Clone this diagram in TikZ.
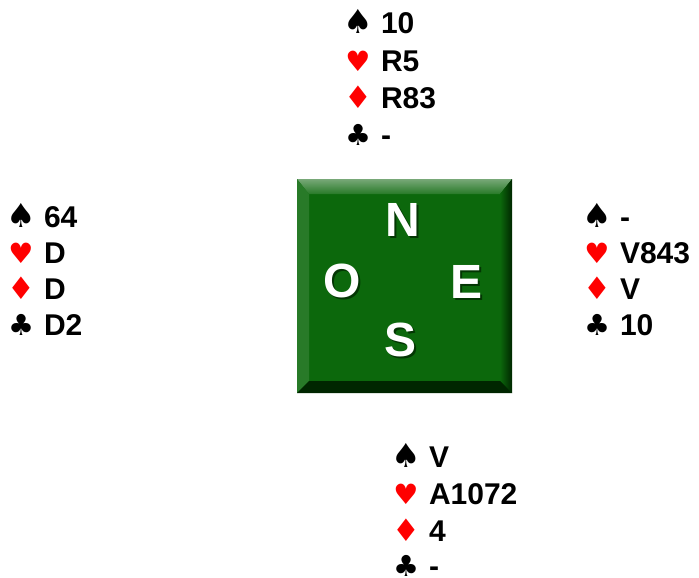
\documentclass[tikz,border=0pt]{standalone}
\usepackage{fontspec}
\setmainfont{Liberation Sans}
\newfontfamily\suitfont{DejaVu Sans}
\usetikzlibrary{shadings}
\definecolor{suitred}{RGB}{255,0,0}
\definecolor{felt}{RGB}{12,104,12}
\definecolor{feltlight}{RGB}{120,168,120}
\definecolor{feltmid}{RGB}{40,122,40}
\definecolor{feltdark}{RGB}{0,60,0}
\definecolor{feltdarker}{RGB}{0,38,0}
\newcommand{\cardsuit}[3]{\makebox[20pt][c]{\suitfont\fontsize{#3}{#3}\selectfont\color{#1}#2}\hspace{13pt}}
\newcommand{\spd}{\cardsuit{black}{♠}{33}}
\newcommand{\hrt}{\cardsuit{suitred}{♥}{28}}
\newcommand{\dmd}{\cardsuit{suitred}{♦}{31}}
\newcommand{\clb}{\cardsuit{black}{♣}{29}}
\begin{document}
\begin{tikzpicture}[x=1pt,y=-1pt,
  row/.style={anchor=base west,inner sep=0pt,outer sep=0pt,font=\bfseries\fontsize{30}{30}\selectfont},
  seat/.style={font=\bfseries\fontsize{48}{48}\selectfont,inner sep=0pt,text=white},
  seatshadow/.style={font=\bfseries\fontsize{48}{48}\selectfont,inner sep=0pt,text=feltdarker,opacity=0.75}]
\useasboundingbox (0,0) rectangle (699,578);
% table
\fill[felt] (297,179) rectangle (512,393);
\shade[top color=feltlight,bottom color=feltmid] (297,179) -- (512,179) -- (500,194) -- (309,194) -- cycle;
\fill[feltmid] (297,179) -- (309,194) -- (309,381) -- (297,393) -- cycle;
\shade[left color=felt,right color=feltdarker] (512,179) -- (512,393) -- (500,381) -- (500,194) -- cycle;
\fill[feltdarker] (297,393) -- (512,393) -- (500,381) -- (309,381) -- cycle;
% seat letters
\node[seatshadow] (Ns) at (405,222) {N};
\node[seat] (N) at (403,220) {N};
\node[seatshadow] (Os) at (344,283) {O};
\node[seat] (O) at (342,281) {O};
\node[seatshadow] (Es) at (469,284) {E};
\node[seat] (E) at (467,282) {E};
\node[seatshadow] (Ss) at (403,342) {S};
\node[seat] (S) at (401,340) {S};
% North
\node[row] (n1) at (348,34) {\spd 10};
\node[row] (n2) at (348,71) {\hrt R5};
\node[row] (n3) at (348,108) {\dmd R83};
\node[row] (n4) at (348,145) {\clb -};
% West
\node[row] (w1) at (11,227) {\spd 64};
\node[row] (w2) at (11,263) {\hrt D};
\node[row] (w3) at (11,299) {\dmd D};
\node[row] (w4) at (11,335) {\clb D2};
% East
\node[row] (e1) at (587,227) {\spd -};
\node[row] (e2) at (587,263) {\hrt V843};
\node[row] (e3) at (587,299) {\dmd V};
\node[row] (e4) at (587,335) {\clb 10};
% South
\node[row] (s1) at (396,467) {\spd V};
\node[row] (s2) at (396,504) {\hrt A1072};
\node[row] (s3) at (396,541) {\dmd 4};
\node[row] (s4) at (396,576) {\clb -};
\end{tikzpicture}
\end{document}
